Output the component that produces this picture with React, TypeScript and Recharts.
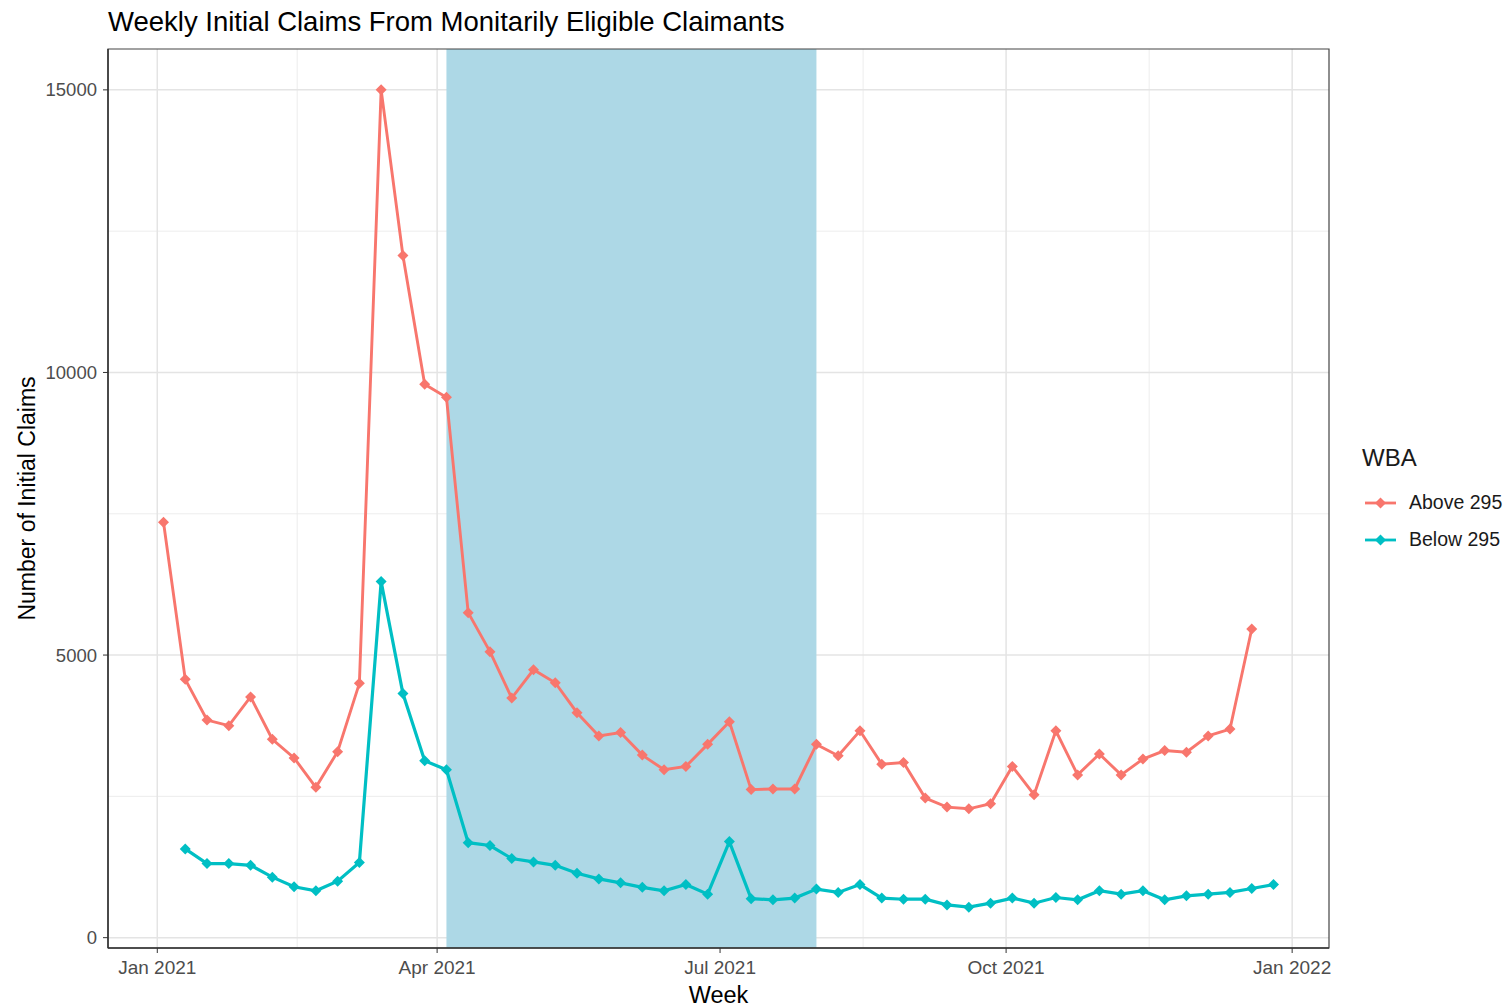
import {
  LineChart,
  Line,
  XAxis,
  YAxis,
  CartesianGrid,
  ReferenceArea,
  Legend,
} from "recharts";

// weekly claims, week starting dates
const weekDates = [
  "2021-01-03", "2021-01-10", "2021-01-17", "2021-01-24", "2021-01-31",
  "2021-02-07", "2021-02-14", "2021-02-21", "2021-02-28", "2021-03-07",
  "2021-03-14", "2021-03-21", "2021-03-28", "2021-04-04", "2021-04-11",
  "2021-04-18", "2021-04-25", "2021-05-02", "2021-05-09", "2021-05-16",
  "2021-05-23", "2021-05-30", "2021-06-06", "2021-06-13", "2021-06-20",
  "2021-06-27", "2021-07-04", "2021-07-11", "2021-07-18", "2021-07-25",
  "2021-08-01", "2021-08-08", "2021-08-15", "2021-08-22", "2021-08-29",
  "2021-09-05", "2021-09-12", "2021-09-19", "2021-09-26", "2021-10-03",
  "2021-10-10", "2021-10-17", "2021-10-24", "2021-10-31", "2021-11-07",
  "2021-11-14", "2021-11-21", "2021-11-28", "2021-12-05", "2021-12-12",
  "2021-12-19", "2021-12-26",
];

const above295 = [
  7350, 4570, 3850, 3750, 4260, 3510, 3180, 2660, 3290, 4500,
  15000, 12070, 9790, 9560, 5750, 5060, 4240, 4740, 4510, 3980,
  3570, 3630, 3230, 2970, 3030, 3420, 3820, 2620, 2630, 2630,
  3420, 3220, 3660, 3070, 3100, 2470, 2310, 2280, 2370, 3030,
  2530, 3660, 2880, 3250, 2880, 3160, 3310, 3280, 3570, 3690,
  5460, null,
];

const below295 = [
  null, 1570, 1310, 1310, 1280, 1070, 900, 830, 1000, 1330,
  6300, 4320, 3130, 2970, 1680, 1630, 1400, 1340, 1280, 1140,
  1040, 970, 890, 830, 940, 770, 1700, 690, 670, 700,
  860, 800, 940, 700, 680, 680, 580, 540, 610, 700,
  610, 710, 670, 830, 770, 830, 670, 740, 770, 800,
  870, 940,
];

const xTickDates = ["2021-01-01", "2021-04-01", "2021-07-01", "2021-10-01", "2022-01-01"];
const xTickLabels = ["Jan 2021", "Apr 2021", "Jul 2021", "Oct 2021", "Jan 2022"];
const yTicks = [0, 5000, 10000, 15000];
const yMinorTicks = [2500, 7500, 12500];
const shadeStart = "2021-04-04";
const shadeEnd = "2021-08-01";

const RED = "#F8766D";
const TEAL = "#00BFC4";
const FONT = "'Liberation Sans', Arial, sans-serif";

// days since Jan 1 2021
const dayOf = (d: string) => (Date.parse(d) - Date.parse("2021-01-01")) / 86400000;

const data = weekDates.map((d, i) => ({
  day: dayOf(d),
  above: above295[i],
  below: below295[i],
}));

const xTicks = xTickDates.map(dayOf);
// ggplot style minor breaks halfway between the majors
const xMinor = xTicks.slice(1).map((t, i) => (t + xTicks[i]) / 2);

const firstDay = data[0].day;
const lastDay = data[data.length - 1].day;
const xPad = (lastDay - firstDay) * 0.05;
const xDomain = [firstDay - xPad, lastDay + xPad];
const yPad = (15000 - 540) * 0.05;
const yDomain = [540 - yPad, 15000 + yPad];

const Diamond = (color: string) => (props: any) => {
  const { cx, cy, value, index } = props;
  if (value == null || cx == null || cy == null) return <g key={index} />;
  const r = 5.5;
  return (
    <polygon
      key={index}
      points={`${cx},${cy - r} ${cx + r},${cy} ${cx},${cy + r} ${cx - r},${cy}`}
      fill={color}
    />
  );
};

function LegendBox() {
  const items = [
    { label: "Above 295", color: RED },
    { label: "Below 295", color: TEAL },
  ];
  return (
    <div style={{ fontFamily: FONT, paddingLeft: 33 }}>
      <div style={{ fontSize: 24, color: "#1a1a1a", marginBottom: 12, lineHeight: "28px" }}>WBA</div>
      {items.map((it) => (
        <div key={it.label} style={{ display: "flex", alignItems: "center", height: 37 }}>
          <svg width={34} height={14} style={{ marginLeft: 3 }}>
            <line x1={0} y1={7} x2={31} y2={7} stroke={it.color} strokeWidth={2.8} />
            <polygon points="15.5,1.5 21,7 15.5,12.5 10,7" fill={it.color} />
          </svg>
          <span style={{ fontSize: 19.5, color: "#1a1a1a", marginLeft: 10 }}>{it.label}</span>
        </div>
      ))}
    </div>
  );
}

export default function App() {
  return (
    <div style={{ position: "absolute", left: 0, top: 0, width: 1508, height: 1008, background: "#fff" }}>
      <div
        style={{
          position: "absolute",
          left: 108,
          top: 6,
          fontFamily: FONT,
          fontSize: 27.5,
          lineHeight: "32px",
          color: "#000",
        }}
      >
        Weekly Initial Claims From Monitarily Eligible Claimants
      </div>
      <LineChart
        width={1508}
        height={1008}
        data={data}
        margin={{ top: 49, right: 0, bottom: 0, left: 8 }}
      >
        <CartesianGrid
          stroke="#ebebeb"
          strokeWidth={0.9}
          horizontalValues={yMinorTicks}
          verticalValues={xMinor}
        />
        <CartesianGrid
          stroke="#e4e4e4"
          strokeWidth={1.5}
          horizontalValues={yTicks}
          verticalValues={xTicks}
        />
        <ReferenceArea
          x1={dayOf(shadeStart)}
          x2={dayOf(shadeEnd)}
          y1={yDomain[0]}
          y2={yDomain[1]}
          fill="#ADD8E6"
          fillOpacity={1}
          stroke="none"
        />
        <ReferenceArea
          x1={xDomain[0]}
          x2={xDomain[1]}
          y1={yDomain[0]}
          y2={yDomain[1]}
          fill="none"
          stroke="#444"
          strokeWidth={1.2}
        />
        <XAxis
          dataKey="day"
          type="number"
          domain={xDomain}
          ticks={xTicks}
          allowDataOverflow
          tickFormatter={(v) => xTickLabels[xTicks.indexOf(v)]}
          height={60}
          tickSize={5}
          tickMargin={8}
          axisLine={{ stroke: "#333", strokeWidth: 1.5 }}
          tickLine={{ stroke: "#333" }}
          tick={{ fill: "#4d4d4d", fontSize: 19, fontFamily: FONT }}
          label={{
            content: (p: any) => (
              <text
                x={p.viewBox.x + p.viewBox.width / 2}
                y={p.viewBox.y + 47}
                textAnchor="middle"
                dominantBaseline="central"
                fontSize={23.5}
                fontFamily={FONT}
                fill="#000"
              >
                Week
              </text>
            ),
          }}
        />
        <YAxis
          type="number"
          domain={yDomain}
          ticks={yTicks}
          allowDataOverflow
          width={100}
          tickSize={5}
          tickMargin={6}
          axisLine={{ stroke: "#333", strokeWidth: 1.5 }}
          tickLine={{ stroke: "#333" }}
          tick={{ fill: "#4d4d4d", fontSize: 18.5, fontFamily: FONT }}
          label={{
            content: (p: any) => {
              const x = p.viewBox.x + 19;
              const y = p.viewBox.y + p.viewBox.height / 2;
              return (
                <text
                  x={x}
                  y={y}
                  transform={`rotate(-90 ${x} ${y})`}
                  textAnchor="middle"
                  dominantBaseline="central"
                  fontSize={23}
                  fontFamily={FONT}
                  fill="#000"
                >
                  Number of Initial Claims
                </text>
              );
            },
          }}
        />
        <Legend
          layout="vertical"
          align="right"
          verticalAlign="middle"
          content={() => <LegendBox />}
          wrapperStyle={{ width: 179, top: 444 }}
        />
        <Line
          dataKey="above"
          name="Above 295"
          stroke={RED}
          strokeWidth={2.9}
          dot={Diamond(RED)}
          activeDot={false}
          isAnimationActive={false}
        />
        <Line
          dataKey="below"
          name="Below 295"
          stroke={TEAL}
          strokeWidth={3.2}
          dot={Diamond(TEAL)}
          activeDot={false}
          isAnimationActive={false}
        />
      </LineChart>
    </div>
  );
}
